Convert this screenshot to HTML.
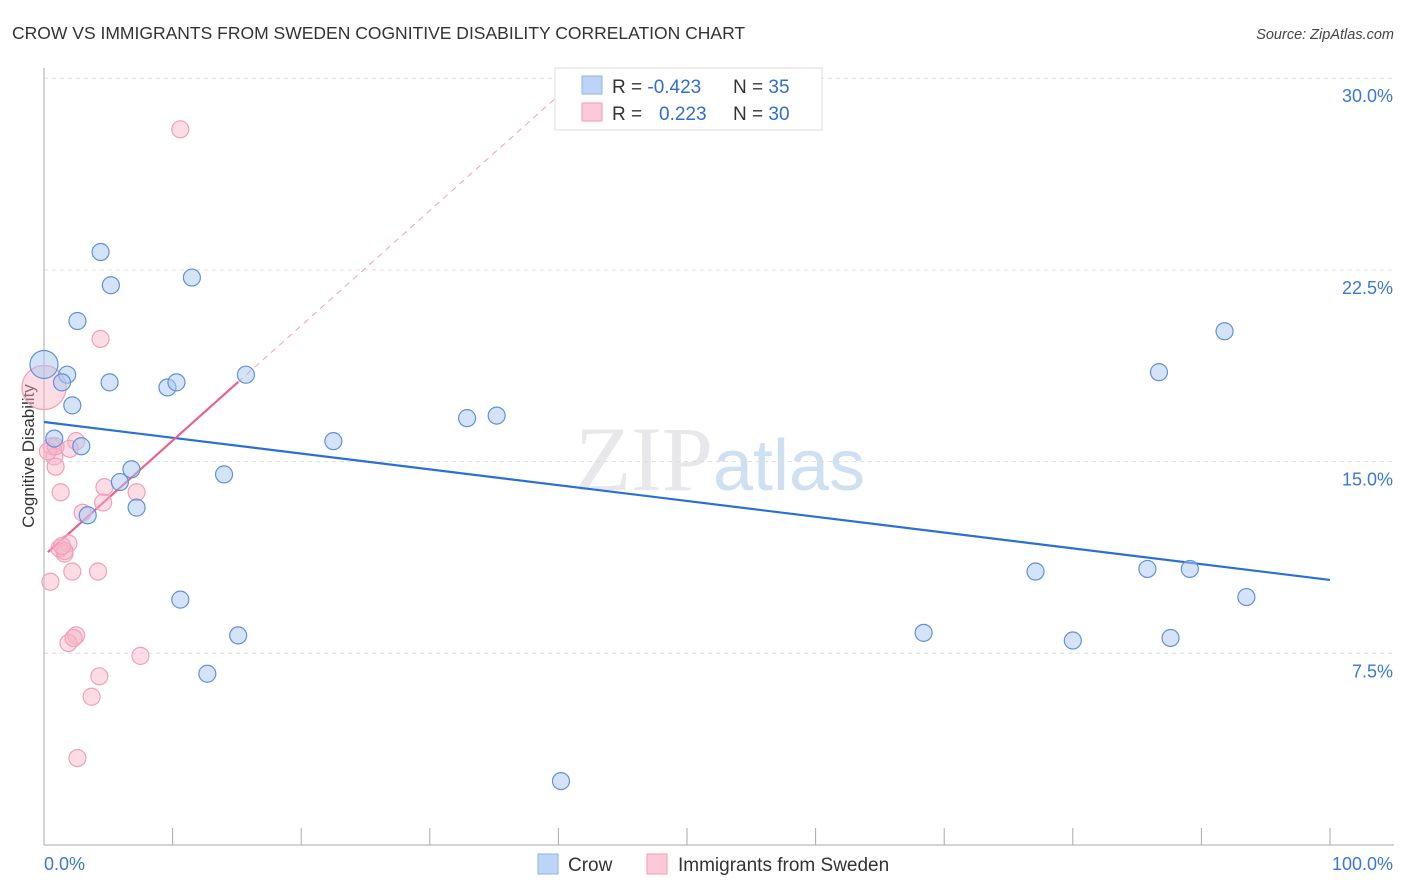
<!DOCTYPE html>
<html><head><meta charset="utf-8"><style>
body{margin:0;background:#fff;font-family:"Liberation Sans",sans-serif;}
svg{display:block}
</style></head><body>
<svg id="chart" width="1406" height="892" xmlns="http://www.w3.org/2000/svg">
<text x="12" y="39" font-size="17.5" fill="#333">CROW VS IMMIGRANTS FROM SWEDEN COGNITIVE DISABILITY CORRELATION CHART</text>
<text x="1394" y="39" font-size="14.5" fill="#444" font-style="italic" text-anchor="end">Source: ZipAtlas.com</text>
<text x="720" y="490" font-size="92" fill="#e8e8ec" text-anchor="middle" font-family="Liberation Serif,serif">ZIP<tspan fill="#cfe0f3" font-family="Liberation Sans,sans-serif" font-size="72">atlas</tspan></text>
<text transform="translate(34,456) rotate(-90)" font-size="17" fill="#333" text-anchor="middle">Cognitive Disability</text>
<g id="grid"></g><g id="axes"></g><g id="trends"></g><g id="pts"></g>
<g>
<rect x="555" y="68" width="267" height="62" fill="#fff" stroke="#ddd"/>
<rect x="582" y="76" width="20" height="18" fill="#bcd4f5" stroke="#8fb3e6"/>
<rect x="582" y="103" width="20" height="18" fill="#fcc9d8" stroke="#f09ab5"/>
<text x="612" y="93" font-size="19" fill="#333">R = <tspan fill="#2f6fd0">-0.423</tspan><tspan x="733">N = </tspan><tspan fill="#2f6fd0">35</tspan></text>
<text x="612" y="120" font-size="19" fill="#333">R = <tspan fill="#2f6fd0" x="659">0.223</tspan><tspan x="733">N = </tspan><tspan fill="#2f6fd0">30</tspan></text>
</g>
<g>
<rect x="538" y="854" width="20" height="20" fill="#bcd4f5" stroke="#8fb3e6"/>
<text x="568" y="871" font-size="19" fill="#333">Crow</text>
<rect x="647" y="854" width="20" height="20" fill="#fcc9d8" stroke="#f09ab5"/>
<text x="678" y="871" font-size="19" fill="#333">Immigrants from Sweden</text>
</g>
</svg>
<script>
const yTicks=[7.5,15,22.5,30];
const yTickLabels=["7.5%","15.0%","22.5%","30.0%"];
const xTicks=[0,10,20,30,40,50,60,70,80,90,100];
const crowX=[4.4,5.2,11.5,2.6,0,1.8,1.4,5.1,9.6,10.3,15.7,2.2,0.8,2.9,6.8,5.9,14.0,7.2,3.4,22.5,32.9,35.2,10.6,15.1,12.7,40.2,91.8,86.7,77.1,85.8,89.1,93.5,68.4,80.0,87.6];
const crowY=[23.2,21.9,22.2,20.5,18.8,18.4,18.1,18.1,17.9,18.1,18.4,17.2,15.9,15.6,14.7,14.2,14.5,13.2,12.9,15.8,16.7,16.8,9.6,8.2,6.7,2.5,20.1,18.5,10.7,10.8,10.8,9.7,8.3,8.0,8.1];
const sweX=[10.6,4.4,0,2.5,2.0,0.6,0.8,0.9,1.3,4.7,7.2,4.6,3.0,1.9,1.2,1.6,1.6,0.5,2.2,4.2,2.5,1.9,2.3,7.5,4.3,3.7,2.6,0.3,0.9,1.4];
const sweY=[28.0,19.8,17.9,15.8,15.5,15.6,15.2,14.8,13.8,14.0,13.8,13.4,13.0,11.8,11.6,11.4,11.5,10.3,10.7,10.7,8.2,7.9,8.1,7.4,6.6,5.8,3.4,15.4,15.6,11.7];
const crowTrend=[16.55,10.37];
const sweTrend=[11.32,0.45];
const X=v=>44+v*12.86, Y=v=>845-v*25.56;
const NS="http://www.w3.org/2000/svg";
function mk(t,a,p){const e=document.createElementNS(NS,t);for(const k in a)e.setAttribute(k,a[k]);p.appendChild(e);return e;}
const grid=document.getElementById('grid'),axes=document.getElementById('axes'),tr=document.getElementById('trends'),pts=document.getElementById('pts');
yTicks.forEach((t,i)=>{
 const l=mk('line',{x1:44,x2:1394,y1:Y(t),y2:Y(t),stroke:'#ddd','stroke-dasharray':'4,4'},grid);
 
 
 const tx=mk('text',{x:1393,y:Y(t)+24,'font-size':18,fill:'#3a78d4','text-anchor':'end'},axes);
 tx.textContent=yTickLabels[i];
 
 
});
const ax=mk('line',{x1:44,x2:44,y1:68,y2:845,stroke:'#aaa'},axes);


const bx=mk('line',{x1:44,x2:1394,y1:845,y2:845,stroke:'#aaa'},axes);


xTicks.forEach(t=>{const l=mk('line',{x1:X(t),x2:X(t),y1:828,y2:845,stroke:'#aaa'},axes);
 
 });
const x0=mk('text',{x:44,y:870,'font-size':18,fill:'#3a78d4'},axes);x0.textContent='0.0%';


const x1=mk('text',{x:1393,y:870,'font-size':18,fill:'#3a78d4','text-anchor':'end'},axes);x1.textContent='100.0%';


const ct=mk('line',{x1:X(0),y1:Y(crowTrend[0]),x2:X(100),y2:Y(crowTrend[1]),stroke:'#2a6fd6','stroke-width':2.2},tr);


const xEnd=(30-sweTrend[0])/sweTrend[1];
const sd=mk('line',{x1:X(15.1),y1:Y(sweTrend[0]+sweTrend[1]*15.1),x2:X(xEnd),y2:Y(30),stroke:'#f0a0b8','stroke-dasharray':'6,5'},tr);


const st=mk('line',{x1:X(0.3),y1:Y(sweTrend[0]+sweTrend[1]*0.3),x2:X(15.1),y2:Y(sweTrend[0]+sweTrend[1]*15.1),stroke:'#e8628c','stroke-width':2.2},tr);


sweX.forEach((v,i)=>{const c=mk('circle',{cx:X(v),cy:Y(sweY[i]),r:i==2?22:8.5,fill:'rgba(248,180,200,0.45)',stroke:'#f0a0b8','stroke-width':1.2},pts);
 
 });
crowX.forEach((v,i)=>{const c=mk('circle',{cx:X(v),cy:Y(crowY[i]),r:i==4?14:8.5,fill:'rgba(170,200,240,0.5)',stroke:'#5f92d8','stroke-width':1.2},pts);
 
 });
</script>
</body></html>
